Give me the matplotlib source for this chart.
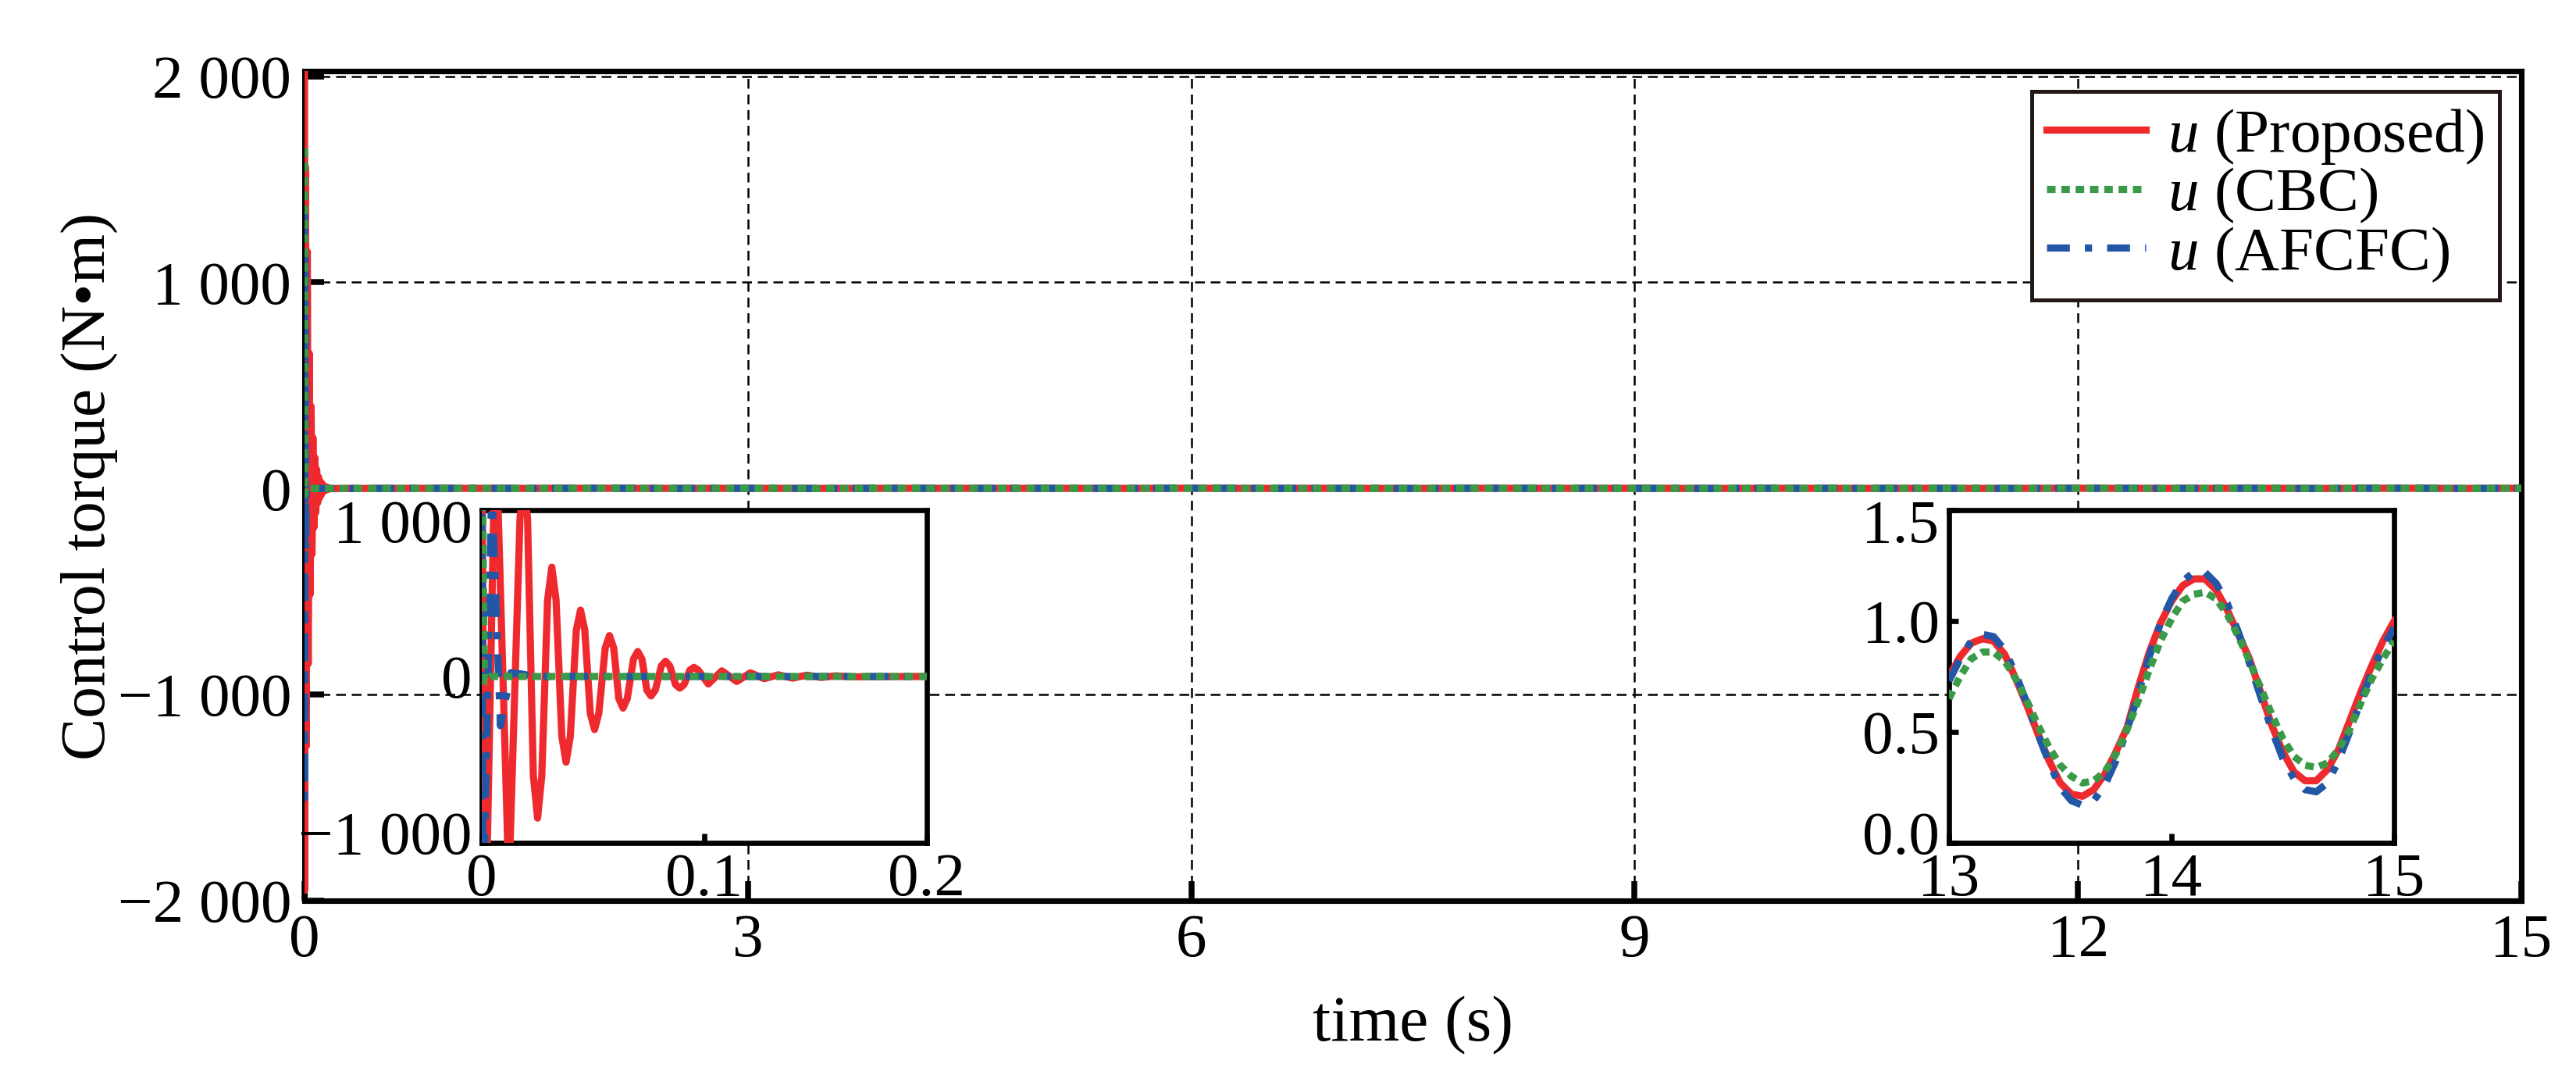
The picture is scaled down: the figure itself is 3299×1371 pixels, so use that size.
import numpy as np
import matplotlib.pyplot as plt
import matplotlib.transforms as mtransforms

plt.rcParams['font.family'] = ['Liberation Serif', 'DejaVu Serif']
plt.rcParams['mathtext.fontset'] = 'custom'
plt.rcParams['mathtext.rm'] = 'Liberation Serif'
plt.rcParams['mathtext.it'] = 'Liberation Serif:italic'

# start-up transient (0 - 0.2 s)
t_prop_0 = [0.0, 0.0012, 0.0062, 0.0122,
            0.0172, 0.0189, 0.0206,
            0.0232, 0.0251, 0.0270,
            0.0296, 0.0315, 0.0334,
            0.0360, 0.0379, 0.0398,
            0.0425, 0.0444, 0.0463,
            0.0488, 0.0507, 0.0526,
            0.0555, 0.0574, 0.0593,
            0.0616, 0.0635, 0.0654,
            0.0682, 0.0701, 0.0720,
            0.0742, 0.0761, 0.0780,
            0.0807, 0.0826, 0.0845,
            0.0871, 0.0890, 0.0909,
            0.0935, 0.0954, 0.0973,
            0.1018, 0.1079, 0.1146, 0.1207, 0.1269, 0.1333, 0.1397,
            0.1461, 0.1525, 0.159, 0.166, 0.2]
u_prop_0 = [2050, -1950, 1560, -1250,
            950, 1150, 950,
            -596, -851, -596,
            460, 657, 460,
            -360, -515, -360,
            279, 399, 279,
            -223, -319, -223,
            172, 246, 172,
            -133, -190, -133,
            105, 150, 105,
            -82, -117, -82,
            64, 92, 64,
            -49, -70, -49,
            38, 55, 38,
            -45, 34, -30, 22, -13, 10, -10,
            8, -6, 4, -2, 0]
t_cbc_0 = [0.0, 0.0012, 0.004, 0.01, 0.2]
u_cbc_0 = [1650, -30, 0, 0, 0]
t_afc_0 = [0.0, 0.0006, 0.0045, 0.0084, 0.0131, 0.018, 0.024, 0.2]
u_afc_0 = [1340, -1500, 1150, -296, 23, 15, 0, 0]

# 0.5 - 12.5 s (flat at the main scale)
t_mid = [0.5, 1.0, 1.5, 2.0, 2.5, 3.0, 3.5, 4.0, 4.5, 5.0, 5.5, 6.0, 6.5,
         7.0, 7.5, 8.0, 8.5, 9.0, 9.5, 10.0, 10.5, 11.0, 11.5, 12.0, 12.5]
u_mid = [0.3, 0.9, 0.5, 1.1, 0.4, 0.8, 0.2, 1.0, 0.6, 0.9, 0.3, 1.2, 0.5,
         0.7, 0.2, 1.1, 0.6, 0.8, 0.3, 1.0, 0.4, 0.9, 0.2, 1.1, 0.5]

# 13 - 15 s
t_end = [13.00, 13.05, 13.10, 13.15, 13.20, 13.25, 13.30, 13.35, 13.40, 13.45,
         13.50, 13.55, 13.60, 13.65, 13.70, 13.75, 13.80, 13.85, 13.90, 13.95,
         14.00, 14.05, 14.10, 14.15, 14.20, 14.25, 14.30, 14.35, 14.40, 14.45,
         14.50, 14.55, 14.60, 14.65, 14.70, 14.75, 14.80, 14.85, 14.90, 14.95, 15.00]
u_prop_end = [0.75, 0.84, 0.90, 0.92, 0.91, 0.85, 0.74, 0.62, 0.49, 0.37,
              0.27, 0.22, 0.21, 0.24, 0.31, 0.41, 0.52, 0.70, 0.86, 0.99,
              1.09, 1.16, 1.19, 1.19, 1.14, 1.05, 0.94, 0.83, 0.68, 0.53,
              0.41, 0.32, 0.28, 0.28, 0.33, 0.42, 0.55, 0.68, 0.80, 0.91, 1.00]
u_cbc_end = [0.65, 0.75, 0.83, 0.86, 0.86, 0.82, 0.74, 0.64, 0.53, 0.43,
             0.35, 0.30, 0.27, 0.28, 0.32, 0.40, 0.51, 0.64, 0.78, 0.91,
             1.01, 1.09, 1.12, 1.13, 1.10, 1.03, 0.93, 0.82, 0.70, 0.58,
             0.47, 0.39, 0.35, 0.34, 0.36, 0.42, 0.51, 0.63, 0.74, 0.83, 0.91]
u_afc_end = [0.73, 0.83, 0.91, 0.94, 0.93, 0.87, 0.76, 0.63, 0.49, 0.36,
             0.25, 0.19, 0.17, 0.19, 0.26, 0.37, 0.51, 0.67, 0.84, 0.99,
             1.10, 1.18, 1.22, 1.22, 1.17, 1.08, 0.95, 0.81, 0.66, 0.51,
             0.38, 0.29, 0.24, 0.23, 0.27, 0.37, 0.50, 0.64, 0.77, 0.88, 0.97]

labels = [r'$u$ (Proposed)', r'$u$ (CBC)', r'$u$ (AFCFC)']
c_red, c_green, c_blue = '#EE2A2E', '#3A9A48', '#2456A6'

t_prop = np.concatenate([t_prop_0, t_mid, t_end])
u_prop = np.concatenate([u_prop_0, u_mid, u_prop_end])
t_cbc = np.concatenate([t_cbc_0, t_mid, t_end])
u_cbc = np.concatenate([u_cbc_0, u_mid, u_cbc_end])
t_afc = np.concatenate([t_afc_0, t_mid, t_end])
u_afc = np.concatenate([u_afc_0, u_mid, u_afc_end])


def draw(ax, tp, up, tc, uc, ta, ua):
    # lines sit above the frame, as in the original
    lp, = ax.plot(tp, up, color=c_red, lw=2.2, zorder=2.6, label=labels[0])
    lc, = ax.plot(tc, uc, color=c_green, lw=2.2, ls=(0, (1.2, 0.8)), zorder=2.8, label=labels[1])
    la, = ax.plot(ta, ua, color=c_blue, lw=2.2, ls=(0, (3.2, 2.1, 1.0, 2.1)), zorder=2.7, label=labels[2])
    return [lp, lc, la]


fig = plt.figure(figsize=(3299 / 300, 1371 / 300), dpi=300)
ax = fig.add_axes([0.1182, 0.159, 0.8606, 0.7746])

handles = draw(ax, t_prop, u_prop, t_cbc, u_cbc, t_afc, u_afc)
ax.set_xlim(0, 15)
ax.set_ylim(-2000, 2025)
ax.set_xticks([0, 3, 6, 9, 12, 15])
ax.set_yticks([-2000, -1000, 0, 1000, 2000])
ax.set_yticklabels(['\u22122 000', '\u22121 000', '0', '1 000', '2 000'])
ax.tick_params(labelsize=19, direction='in', length=6, width=1.8, pad=4)
ax.grid(True, ls=(0, (5, 3)), lw=0.6, color='black')
for s in ax.spines.values():
    s.set_linewidth(1.7)
ax.set_xlabel('time (s)', fontsize=20, labelpad=8)
ax.set_ylabel('Control torque (N\u2022m)', fontsize=19.5, labelpad=0)

leg = ax.legend(handles=handles, loc='upper right', bbox_to_anchor=(0.990, 0.9755),
                fontsize=19, fancybox=False, framealpha=1, edgecolor='#231815',
                borderaxespad=0, borderpad=0.25, labelspacing=0.0,
                handlelength=1.6, handletextpad=0.35)
leg.get_frame().set_linewidth(1.2)
leg.set_zorder(5)

# left inset: transient
ax1 = fig.add_axes([0.1870, 0.2130, 0.1728, 0.3107])
draw(ax1, t_prop_0, u_prop_0, t_cbc_0, u_cbc_0, t_afc_0, u_afc_0)
ax1.set_xlim(0, 0.2)
ax1.set_ylim(-1000, 1000)
ax1.set_xticks([0, 0.1, 0.2])
ax1.set_xticklabels(['0', '0.1', '0.2'])
ax1.set_yticks([-1000, 0, 1000])
ax1.set_yticklabels(['\u22121 000', '0', '1 000'])

# right inset: steady state
ax2 = fig.add_axes([0.7566, 0.2130, 0.1728, 0.3107])
draw(ax2, t_end, u_prop_end, t_end, u_cbc_end, t_end, u_afc_end)
ax2.set_xlim(13, 15)
ax2.set_ylim(0, 1.5)
ax2.set_xticks([13, 14, 15])
ax2.set_yticks([0, 0.5, 1.0, 1.5])
ax2.set_yticklabels(['0.0', '0.5', '1.0', '1.5'])

shift_up = mtransforms.ScaledTranslation(0, 3.2 / 72, fig.dpi_scale_trans)
shift_dn = mtransforms.ScaledTranslation(0, -3.2 / 72, fig.dpi_scale_trans)
for a in (ax1, ax2):
    a.tick_params(labelsize=19, direction='in', length=2.8, width=1.6, pad=3)
    for s in a.spines.values():
        s.set_linewidth(1.6)
    labs = a.get_yticklabels()
    labs[0].set_transform(labs[0].get_transform() + shift_up)
    labs[-1].set_transform(labs[-1].get_transform() + shift_dn)

fig.savefig('out.png', dpi=300)
